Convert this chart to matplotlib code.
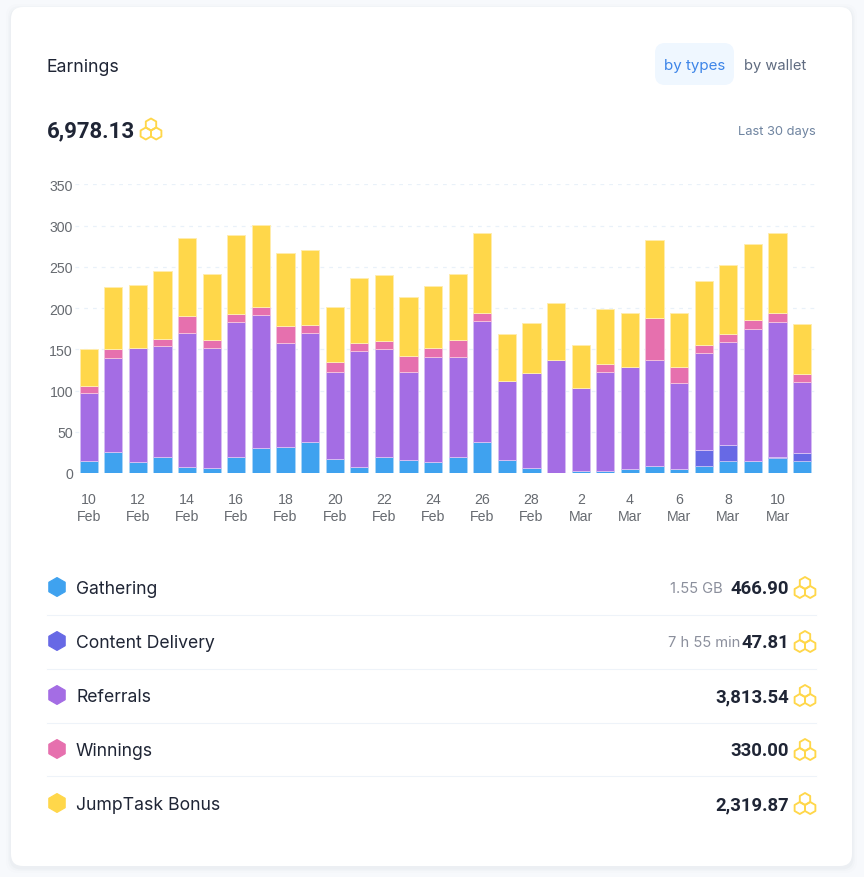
import numpy as np
import matplotlib
matplotlib.use("Agg")
import matplotlib.pyplot as plt
from matplotlib.colors import to_rgb
from matplotlib.patches import FancyBboxPatch, RegularPolygon

W, H = 864, 878

# values, one per day
days = ["10\nFeb", "", "12\nFeb", "", "14\nFeb", "", "16\nFeb", "", "18\nFeb", "", "20\nFeb", "",
        "22\nFeb", "", "24\nFeb", "", "26\nFeb", "", "28\nFeb", "", "2\nMar", "", "4\nMar", "",
        "6\nMar", "", "8\nMar", "", "10\nMar", ""]
gathering = [14, 25, 13, 20, 7, 6, 19, 30, 32, 37, 17, 7, 20, 16, 13,
             19, 37, 16, 6, 0, 3, 3, 4.5, 8, 4.5, 9, 15, 15, 18, 14.5]
content = [0, 0, 0, 0, 0, 0, 0, 0, 0, 0, 0, 0, 0, 0, 0,
           0, 0, 0, 0, 0, 0, 0, 0, 0, 0, 18.5, 19, 0, 1, 9.5]
referrals = [83, 115, 139, 133.5, 163, 145, 164, 161, 125, 133, 106, 140.5, 130, 106, 128,
             122, 147, 96, 115, 137, 100.5, 119, 124.5, 129, 105, 117.5, 124.5, 160, 164.5, 86]
winnings = [9, 10, 0, 9.5, 20, 10, 10, 10, 21, 10, 11, 10.5, 10, 20, 10,
            20, 10, 0, 0, 0, 0, 10.5, 0, 50.5, 19.5, 10.5, 9.5, 10, 10, 10.5]
jumptask = [44, 75, 76, 82, 95, 80, 96, 100, 89, 90, 67, 78, 80, 71, 76,
            80, 97, 56.5, 61, 69, 51.5, 66.5, 65, 94.5, 65, 77.5, 84.6, 92.7, 97, 60.2]
yticks = [0, 50, 100, 150, 200, 250, 300, 350]

names = ["Gathering", "Content Delivery", "Referrals", "Winnings", "JumpTask Bonus"]
colors = ["#3fa2ef", "#6769e5", "#a46de4", "#e670ae", "#ffd74a"]
amounts = ["466.90", "47.81", "3,813.54", "330.00", "2,319.87"]
extras = ["1.55 GB", "7 h 55 min", "", "", ""]
total = "6,978.13"

INK = "#1f2535"
YELLOW = "#ffd74a"


def tint(color, amount):
    return tuple(c + (1 - c) * amount for c in to_rgb(color))


def coins(ax, x, y):
    # three outlined hexagons, x/y is the middle of the group
    r = 6.0
    dx = r * np.cos(np.pi / 6)
    for cx, cy in [(x, y - 4.5), (x - dx, y + 4.5), (x + dx, y + 4.5)]:
        ax.add_patch(RegularPolygon((cx, cy), 6, radius=r, fill=False,
                                    edgecolor=YELLOW, linewidth=1.35, joinstyle="round"))


fig = plt.figure(figsize=(W / 100, H / 100), dpi=100, facecolor="#f7f9fc")

# page layer in pixel coordinates
bg = fig.add_axes([0, 0, 1, 1], zorder=0)
bg.set_xlim(0, W)
bg.set_ylim(H, 0)
bg.axis("off")
for grow, alpha in [(5, 0.012), (3, 0.02), (1.5, 0.03)]:
    bg.add_patch(FancyBboxPatch((11 - grow, 8 - grow + 2), 841 + 2 * grow, 859 + 2 * grow,
                                boxstyle="round,pad=0,rounding_size=12",
                                facecolor="#5a6a85", edgecolor="none", alpha=alpha))
bg.add_patch(FancyBboxPatch((11, 8), 841, 859, boxstyle="round,pad=0,rounding_size=12",
                            facecolor="white", edgecolor="none"))

bg.text(47, 67, "Earnings", fontsize=12.8, family="Inter", color=INK, va="center")
bg.add_patch(FancyBboxPatch((655, 44), 79, 42, boxstyle="round,pad=0,rounding_size=10",
                            facecolor="#eff7ff", edgecolor="none"))
bg.text(694.5, 66, "by types", fontsize=10.9, family="Inter", color="#3d85e8", va="center", ha="center")
bg.text(775, 66, "by wallet", fontsize=10.6, family="Inter", color="#5f6b80", va="center", ha="center")
bg.text(47, 131, total, fontsize=16, family="Roboto", weight="bold", color=INK, va="center")
coins(bg, 151, 130)
bg.text(816, 131.5, "Last 30 days", fontsize=9.3, family="Inter", color="#6f84a0", va="center", ha="right")

# legend rows
for i, name in enumerate(names):
    y = 588 + 54 * i
    bg.add_patch(RegularPolygon((57, y), 6, radius=9.4, facecolor=colors[i], edgecolor=colors[i],
                                linewidth=0.9, joinstyle="round"))
    bg.text(76, y + 1.5, name, fontsize=12.7, family="Inter", color=INK, va="center")
    bg.text(789, y + 1, amounts[i], fontsize=13.3, family="Roboto", weight="bold", color=INK,
            va="center", ha="right")
    coins(bg, 805, y + 0.5)
    if extras[i]:
        end = 722.5 if i == 0 else 740
        bg.text(end, y + 1.5, extras[i], fontsize=10.6, family="Inter", color="#8b8f9c",
                va="center", ha="right")
    if i < len(names) - 1:
        bg.plot([47, 816], [y + 27.5, y + 27.5], color="#eef3f9", lw=0.8)

# chart, x axis spans 75..815 px, y axis 185.3..474 px
ax = fig.add_axes([75 / W, 1 - 474 / H, 740 / W, 288.7 / H], zorder=1)
ax.patch.set_alpha(0)
x = np.arange(len(days))
ax.set_xlim((75 - 88.7) / 24.6, (815 - 88.7) / 24.6)
ax.set_ylim(0, 350)

bottom = np.zeros(len(days))
for series, color in zip([gathering, content, referrals, winnings, jumptask], colors):
    vals = np.array(series)
    ax.bar(x[vals > 0], vals[vals > 0], bottom=bottom[vals > 0], width=0.735, color=color,
           edgecolor=tint(color, 0.55), linewidth=0.7, zorder=3)
    bottom += vals

ax.set_yticks(yticks)
ax.set_xticks(x[::2])
ax.set_xticklabels(days[::2], linespacing=1.25)
ax.tick_params(axis="both", length=0, labelsize=10.2, labelcolor="#666a70",
               labelfontfamily="Liberation Sans")
ax.tick_params(axis="x", pad=14)
ax.tick_params(axis="y", pad=1.5)
ax.grid(axis="y", color="#e9f1f9", lw=0.9, dashes=(3, 4), zorder=0)
for side in ax.spines.values():
    side.set_visible(False)

fig.savefig("out.png", dpi=100, facecolor=fig.get_facecolor())
